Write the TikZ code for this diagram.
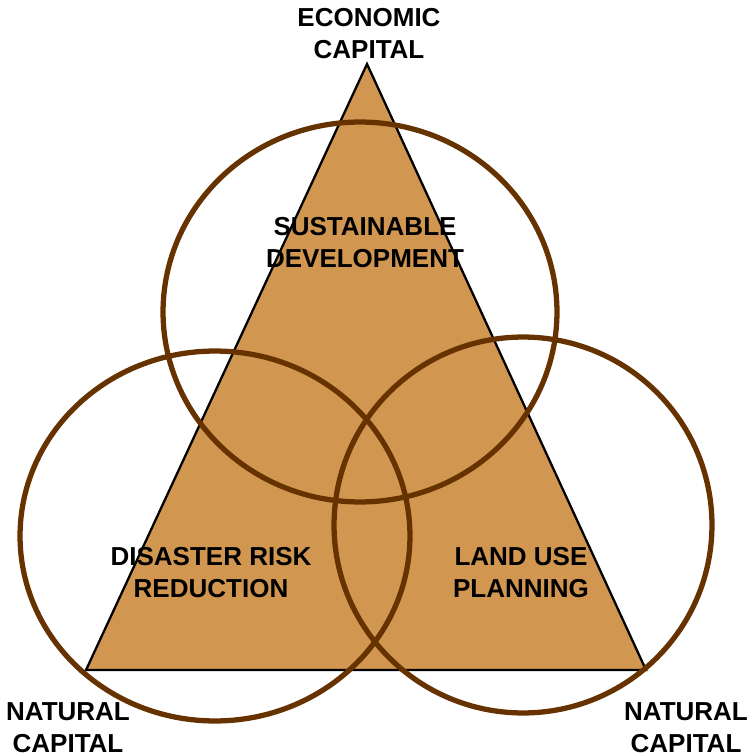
\documentclass[tikz,border=0pt]{standalone}
\usepackage{fontspec}
\setmainfont{Liberation Sans}
\usepackage{xcolor}

\definecolor{capfill}{RGB}{209,150,80}
\definecolor{ringbrown}{RGB}{102,51,0}

\tikzset{
    ring/.style={draw=ringbrown, line width=3pt},
    label/.style={align=center, inner sep=0pt, font=\fontsize{14.8}{18.2}\selectfont\bfseries}
}

\begin{document}
\begin{tikzpicture}[x=0.02cm, y=-0.02cm]
        \useasboundingbox (0,0) rectangle (755,756);

        % triangle of capitals
        \filldraw[fill=capfill, draw=black, line width=1.3pt, line join=miter] (367,64) -- (646,670) -- (86,670) -- cycle;

        % the three rings
        \draw[ring] (360,312) ellipse (3.94cm and 3.8cm);
        \draw[ring] (215,536) ellipse (3.9cm and 3.7cm);
        \draw[ring] (523,525) ellipse (3.78cm and 3.76cm);

        \node[label] (econ) at (369,34) {ECONOMIC\\CAPITAL};
        \node[label] (natleft) at (68,728) {NATURAL\\CAPITAL};
        \node[label] (natright) at (686,728) {NATURAL\\CAPITAL};

        \node[label] (sustain) at (365,243) {SUSTAINABLE\\DEVELOPMENT};
        \node[label] (drr) at (211,573) {DISASTER RISK\\REDUCTION};
        \node[label] (landuse) at (521,573) {LAND USE\\PLANNING};
    \end{tikzpicture}
\end{document}
